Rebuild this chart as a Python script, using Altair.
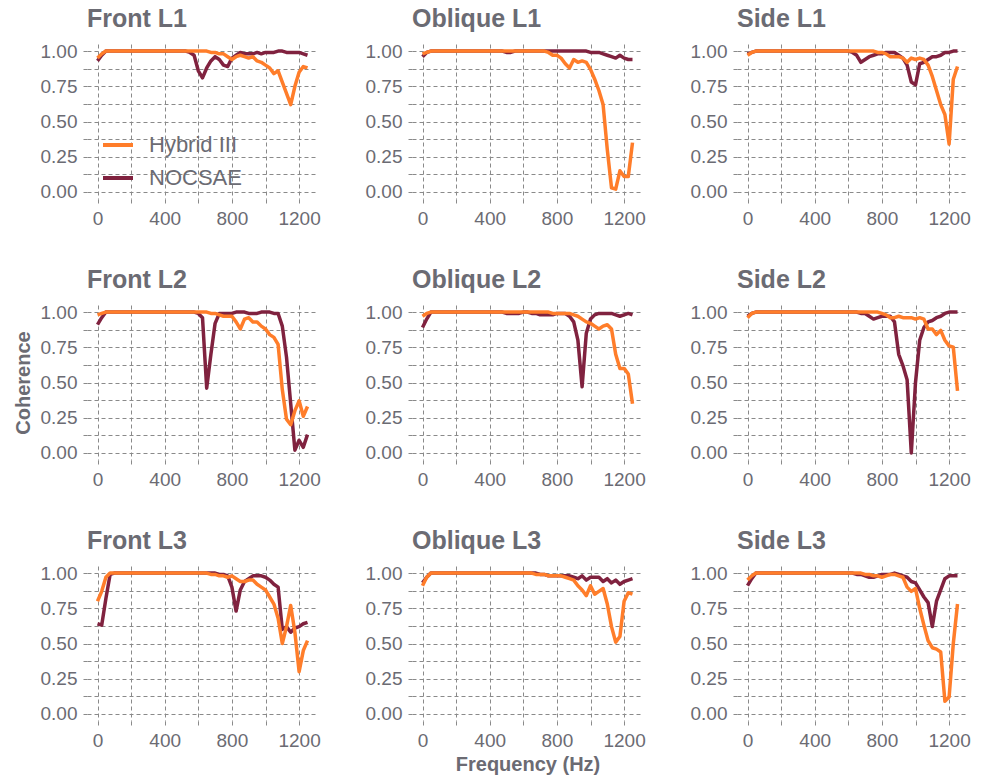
import altair as alt
import pandas as pd

freq = list(range(0, 1251, 25))

panels = ["Front L1", "Oblique L1", "Side L1",
          "Front L2", "Oblique L2", "Side L2",
          "Front L3", "Oblique L3", "Side L3"]

devices = ["Hybrid III", "NOCSAE"]
colors = ["#FF7D2A", "#80223F"]

hyb = {
    "Front L1": [0.95,0.98,1.00,1.00,1.00,1.00,1.00,1.00,1.00,1.00, 1.00,1.00,1.00,1.00,1.00,1.00,1.00,1.00,1.00,1.00, 1.00,1.00,1.00,1.00,1.00,1.00,1.00,0.99,0.99,0.98, 0.98,0.96,0.94,0.96,0.97,0.96,0.95,0.96,0.93,0.92, 0.90,0.88,0.84,0.86,0.78,0.70,0.62,0.75,0.85,0.89,0.88],
    "Oblique L1": [0.98,0.99,1.00,1.00,1.00,1.00,1.00,1.00,1.00,1.00, 1.00,1.00,1.00,1.00,1.00,1.00,1.00,1.00,1.00,1.00, 1.00,1.00,1.00,1.00,1.00,1.00,1.00,1.00,1.00,1.00, 0.99,0.97,0.97,0.95,0.91,0.88,0.94,0.92,0.93,0.92, 0.87,0.80,0.72,0.62,0.30,0.03,0.02,0.15,0.11,0.11,0.35],
    "Side L1": [0.97,0.99,1.00,1.00,1.00,1.00,1.00,1.00,1.00,1.00, 1.00,1.00,1.00,1.00,1.00,1.00,1.00,1.00,1.00,1.00, 1.00,1.00,1.00,1.00,1.00,1.00,1.00,1.00,1.00,1.00, 1.00,0.99,0.99,0.98,0.96,0.96,0.96,0.95,0.92,0.95, 0.94,0.95,0.94,0.90,0.82,0.72,0.62,0.55,0.34,0.80,0.89],
    "Front L2": [0.98,0.99,1.00,1.00,1.00,1.00,1.00,1.00,1.00,1.00, 1.00,1.00,1.00,1.00,1.00,1.00,1.00,1.00,1.00,1.00, 1.00,1.00,1.00,1.00,1.00,1.00,1.00,0.99,0.99,0.98, 0.97,0.97,0.97,0.93,0.88,0.95,0.96,0.93,0.93,0.90, 0.88,0.84,0.82,0.77,0.45,0.24,0.20,0.30,0.37,0.26,0.33],
    "Oblique L2": [0.97,0.99,1.00,1.00,1.00,1.00,1.00,1.00,1.00,1.00, 1.00,1.00,1.00,1.00,1.00,1.00,1.00,1.00,1.00,1.00, 1.00,1.00,1.00,1.00,1.00,1.00,1.00,1.00,1.00,1.00, 1.00,0.99,0.99,0.99,0.99,0.99,0.98,0.97,0.95,0.93, 0.92,0.90,0.88,0.90,0.91,0.88,0.70,0.60,0.60,0.56,0.35],
    "Side L2": [0.96,0.99,1.00,1.00,1.00,1.00,1.00,1.00,1.00,1.00, 1.00,1.00,1.00,1.00,1.00,1.00,1.00,1.00,1.00,1.00, 1.00,1.00,1.00,1.00,1.00,1.00,1.00,1.00,1.00,1.00, 1.00,1.00,0.99,0.98,0.96,0.96,0.97,0.96,0.96,0.96, 0.95,0.96,0.95,0.88,0.88,0.84,0.87,0.80,0.76,0.75,0.44],
    "Front L3": [0.80,0.87,0.97,1.00,1.00,1.00,1.00,1.00,1.00,1.00, 1.00,1.00,1.00,1.00,1.00,1.00,1.00,1.00,1.00,1.00, 1.00,1.00,1.00,1.00,1.00,1.00,1.00,0.99,0.99,0.98, 0.98,0.97,0.98,0.96,0.94,0.94,0.95,0.95,0.92,0.90, 0.88,0.83,0.78,0.68,0.50,0.62,0.77,0.58,0.30,0.45,0.52],
    "Oblique L3": [0.91,0.97,1.00,1.00,1.00,1.00,1.00,1.00,1.00,1.00, 1.00,1.00,1.00,1.00,1.00,1.00,1.00,1.00,1.00,1.00, 1.00,1.00,1.00,1.00,1.00,1.00,1.00,0.99,0.99,0.99, 0.98,0.98,0.98,0.98,0.97,0.96,0.95,0.91,0.88,0.84, 0.91,0.85,0.87,0.89,0.78,0.62,0.51,0.55,0.80,0.86,0.85],
    "Side L3": [0.95,0.98,1.00,1.00,1.00,1.00,1.00,1.00,1.00,1.00, 1.00,1.00,1.00,1.00,1.00,1.00,1.00,1.00,1.00,1.00, 1.00,1.00,1.00,1.00,1.00,1.00,1.00,1.00,0.99,0.99, 0.98,0.98,0.97,0.98,0.99,0.99,0.98,0.97,0.90,0.87, 0.89,0.75,0.63,0.52,0.47,0.46,0.44,0.09,0.12,0.50,0.78],
}

noc = {
    "Front L1": [0.93,0.97,1.00,1.00,1.00,1.00,1.00,1.00,1.00,1.00, 1.00,1.00,1.00,1.00,1.00,1.00,1.00,1.00,1.00,1.00, 1.00,1.00,0.99,0.97,0.86,0.81,0.88,0.93,0.96,0.94, 0.90,0.89,0.95,0.97,0.99,0.98,0.98,0.98,0.99,0.98, 0.99,0.99,0.99,1.00,1.00,0.99,0.99,0.99,0.99,0.98,0.97],
    "Oblique L1": [0.96,0.99,1.00,1.00,1.00,1.00,1.00,1.00,1.00,1.00, 1.00,1.00,1.00,1.00,1.00,1.00,1.00,1.00,1.00,1.00, 0.99,0.99,1.00,1.00,1.00,1.00,1.00,1.00,1.00,1.00, 1.00,1.00,1.00,1.00,1.00,1.00,1.00,1.00,1.00,1.00, 0.99,0.99,0.99,0.98,0.97,0.96,0.95,0.97,0.95,0.94,0.94],
    "Side L1": [0.98,0.99,1.00,1.00,1.00,1.00,1.00,1.00,1.00,1.00, 1.00,1.00,1.00,1.00,1.00,1.00,1.00,1.00,1.00,1.00, 1.00,1.00,1.00,1.00,1.00,0.99,0.97,0.92,0.94,0.96, 0.97,0.98,0.98,0.99,0.99,0.99,0.97,0.95,0.90,0.78, 0.76,0.91,0.92,0.94,0.96,0.96,0.97,0.99,0.99,1.00,1.00],
    "Front L2": [0.91,0.96,1.00,1.00,1.00,1.00,1.00,1.00,1.00,1.00, 1.00,1.00,1.00,1.00,1.00,1.00,1.00,1.00,1.00,1.00, 1.00,1.00,1.00,1.00,0.99,0.96,0.46,0.70,0.92,0.99, 0.99,0.99,0.99,1.00,1.00,1.00,0.99,0.99,0.99,1.00, 1.00,1.00,0.99,0.99,0.90,0.68,0.35,0.02,0.09,0.04,0.13],
    "Oblique L2": [0.89,0.95,1.00,1.00,1.00,1.00,1.00,1.00,1.00,1.00, 1.00,1.00,1.00,1.00,1.00,1.00,1.00,1.00,1.00,1.00, 0.99,0.99,0.99,0.99,1.00,1.00,0.99,0.99,0.98,0.98, 0.98,0.98,0.99,0.99,0.99,0.97,0.93,0.80,0.47,0.85, 0.95,0.98,0.99,0.99,0.99,0.99,0.98,0.97,0.98,0.99,0.98],
    "Side L2": [0.97,0.99,1.00,1.00,1.00,1.00,1.00,1.00,1.00,1.00, 1.00,1.00,1.00,1.00,1.00,1.00,1.00,1.00,1.00,1.00, 1.00,1.00,1.00,1.00,1.00,1.00,1.00,0.99,0.99,0.97, 0.95,0.96,0.97,0.97,0.97,0.93,0.70,0.62,0.52,0.00, 0.50,0.80,0.89,0.93,0.94,0.96,0.97,0.99,1.00,1.00,1.00],
    "Front L3": [0.64,0.63,0.82,0.99,1.00,1.00,1.00,1.00,1.00,1.00, 1.00,1.00,1.00,1.00,1.00,1.00,1.00,1.00,1.00,1.00, 1.00,1.00,1.00,1.00,1.00,1.00,1.00,1.00,1.00,0.99, 0.99,0.98,0.90,0.73,0.88,0.94,0.96,0.98,0.98,0.98, 0.97,0.95,0.92,0.90,0.60,0.62,0.58,0.61,0.62,0.64,0.65],
    "Oblique L3": [0.93,0.97,1.00,1.00,1.00,1.00,1.00,1.00,1.00,1.00, 1.00,1.00,1.00,1.00,1.00,1.00,1.00,1.00,1.00,1.00, 1.00,1.00,1.00,1.00,1.00,1.00,1.00,1.00,0.99,0.99, 0.98,0.98,0.98,0.98,0.98,0.98,0.97,0.96,0.98,0.95, 0.97,0.97,0.97,0.94,0.96,0.93,0.95,0.92,0.94,0.95,0.96],
    "Side L3": [0.91,0.96,1.00,1.00,1.00,1.00,1.00,1.00,1.00,1.00, 1.00,1.00,1.00,1.00,1.00,1.00,1.00,1.00,1.00,1.00, 1.00,1.00,1.00,1.00,1.00,1.00,0.99,0.99,0.98,0.97, 0.97,0.98,0.99,0.99,0.99,1.00,0.99,0.98,0.97,0.94, 0.93,0.88,0.83,0.79,0.62,0.80,0.88,0.96,0.98,0.98,0.98],
}

x_grid = [0, 200, 400, 600, 800, 1000, 1200]
y_grid = [0, 0.125, 0.25, 0.375, 0.5, 0.625, 0.75, 0.875, 1.0]

TEXT = "#6B6B73"
GRID = "#8A8A8A"
FONT = "Liberation Sans"

charts = []
for i, p in enumerate(panels):
    rows = []
    for dev, src in (("NOCSAE", noc), ("Hybrid III", hyb)):
        for f, v in zip(freq, src[p]):
            rows.append({"freq": f, "coh": v, "device": dev})
    df = pd.DataFrame(rows)

    xaxis = alt.Axis(
        values=x_grid,
        format="d",
        labelExpr="datum.value % 400 == 0 ? datum.label : ''",
        title="Frequency (Hz)" if i == 7 else None,
        titlePadding=4,
    )
    yaxis = alt.Axis(
        values=y_grid,
        format=".2f",
        labelExpr="(datum.value * 8) % 2 == 0 ? datum.label : ''",
        title="Coherence" if i == 3 else None,
        titlePadding=7,
    )
    if i == 0:
        legend = alt.Legend(
            orient="none", legendX=14, legendY=84, title=None,
            symbolType="stroke", symbolSize=900, symbolStrokeWidth=4,
            labelFontSize=22, labelColor=TEXT, labelFont=FONT,
            rowPadding=5, labelOffset=14, padding=0,
        )
    else:
        legend = None

    color = alt.Color(
        "device:N",
        scale=alt.Scale(domain=devices, range=colors),
        legend=legend,
    )
    xenc = alt.X("freq:Q", scale=alt.Scale(domain=[-62.5, 1312.5], nice=False, zero=False), axis=xaxis)
    yenc = alt.Y("coh:Q", scale=alt.Scale(domain=[-0.05, 1.05], nice=False, zero=False), axis=yaxis)

    base = alt.Chart(df).mark_line(strokeWidth=3.5, strokeJoin="round", strokeCap="butt")
    lay_n = base.transform_filter(alt.datum.device == "NOCSAE").encode(x=xenc, y=yenc, color=color)
    lay_h = base.transform_filter(alt.datum.device == "Hybrid III").encode(x=xenc, y=yenc, color=color)
    ch = alt.layer(lay_n, lay_h).properties(
        width=231, height=155,
        title=alt.TitleParams(p, anchor="start", frame="group", fontSize=25, fontWeight="bold",
                              color=TEXT, font=FONT, offset=10),
    )
    charts.append(ch)

chart = alt.concat(*charts, columns=3, spacing={"row": 106, "column": 94}, bounds="flush").resolve_legend(
    color="independent"
).properties(
    padding={"left": 13, "top": 7, "right": 5, "bottom": 5}
).configure(font=FONT).configure_view(stroke=None).configure_axis(
    grid=True, gridColor=GRID, gridDash=[4, 3], gridWidth=1,
    domain=False, ticks=True, tickSize=5, tickColor=GRID, tickDash=[4, 3], tickWidth=1,
    labelFont=FONT, labelFontSize=19, labelColor=TEXT, labelPadding=5,
    titleFont=FONT, titleFontSize=20, titleFontWeight="bold", titleColor=TEXT,
)

chart.save("out.html", embed_options={"renderer": "svg", "actions": False})
